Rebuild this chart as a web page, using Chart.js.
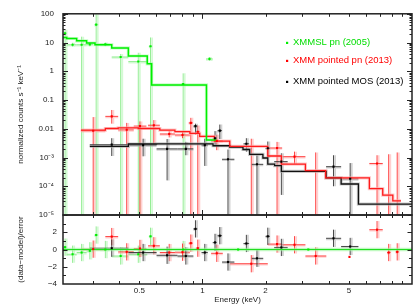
<!DOCTYPE html>
<html>
<head>
<meta charset="utf-8">
<script src="https://cdn.jsdelivr.net/npm/chart.js@4.4.1/dist/chart.umd.min.js"></script>
<style>
  html, body { margin: 0; padding: 0; background: #fff; }
  #wrap { position: relative; width: 416px; height: 305px; }
  #wrap canvas { position: absolute; left: 0; top: 0; }
</style>
</head>
<body>
<div id="wrap">
  <canvas id="specChart" width="416" height="305"></canvas>
  <canvas id="residChart" width="416" height="305"></canvas>
</div>
<script>
// energy axis (keV)
const energyMin = 0.216;
const energyMax = 10;
const energyTicks = [0.5, 1, 2, 5];
const energyTickLabels = ['0.5', '1', '2', '5'];

// count axis
const countTicks = [1e-5, 1e-4, 1e-3, 0.01, 0.1, 1, 10, 100];
const countTickLabels = ['10⁻⁵', '10⁻⁴', '10⁻³', '0.01', '0.1', '1', '10', '100'];
const residTicks = [-4, -2, 0, 2];
const residTickLabels = ['−4', '−2', '0', '2'];

const seriesNames = ['XMMSL pn (2005)', 'XMM pointed pn (2013)', 'XMM pointed MOS (2013)'];

// XMMSL pn (2005) - green
const pn05Energy = [0.221, 0.240, 0.265, 0.290, 0.311, 0.344, 0.407, 0.494, 0.565, 0.809, 1.08, 1.48, 3.20];
const pn05Low = [0.216, 0.225, 0.251, 0.280, 0.305, 0.325, 0.369, 0.443, 0.555, 0.790, 1.04, 1.47, 3.19];
const pn05High = [0.225, 0.251, 0.280, 0.300, 0.318, 0.360, 0.443, 0.545, 0.575, 0.830, 1.12, 1.49, 3.21];
const pn05Counts = [21, 8.4, 8.4, 8.6, 42, 8.7, 3.15, 2.18, 7.4, 0.36, 2.7, null, null];
const pn05CountsLow = [1e-7, 7.2, 1e-7, 7.4, 1e-7, 7.5, 1e-7, 1e-7, 1e-7, 1e-7, 2.3, null, null];
const pn05CountsHigh = [28, 9.8, 16, 10, 95, 10, 4.0, 4.4, 15, 0.85, 3.1, null, null];
const pn05Resid = [0.27, -0.55, -0.35, -0.15, 1.68, 0.0, -0.75, -0.55, 1.53, 0.0, null, 0.0, 0.0];
const pn05ResidErr = [1, 1, 1, 1, 1, 1, 1, 1, 1, 1, null, 0, 0];
const pn05ModelEdges = [0.216, 0.225, 0.251, 0.280, 0.307, 0.369, 0.443, 0.545, 0.572, 1.045, 1.166];
const pn05Model = [15, 13.8, 11.5, 9.6, 8.4, 6.5, 3.4, 1.82, 0.335, 0.0041];

// XMM pointed pn (2013) - red
const pn13Energy = [0.301, 0.369, 0.435, 0.503, 0.586, 0.694, 0.803, 0.880, 0.950, 1.17, 1.71, 2.27, 2.75, 3.47, 5.03, 6.81, 7.74, 8.50];
const pn13Low = [0.263, 0.344, 0.396, 0.470, 0.550, 0.626, 0.739, 0.860, 0.930, 1.10, 1.35, 2.05, 2.40, 3.10, 5.03, 6.26, 7.60, 8.35];
const pn13High = [0.344, 0.396, 0.470, 0.540, 0.626, 0.739, 0.871, 0.900, 0.970, 1.25, 2.05, 2.40, 3.10, 3.90, 5.03, 7.25, 7.90, 8.65];
const pn13Counts = [0.00855, 0.027, 0.0092, 0.0124, 0.0133, 0.0066, 0.0061, 0.016, 0.0079, 0.0038, null, 0.00215, 0.00107, null, null, 6.2e-4, null, null];
const pn13CountsLow = [1e-7, 0.0151, 1e-7, 1e-7, 0.0028, 0.0050, 0.0047, 1e-7, 1e-7, 0.0018, 1e-7, 1e-7, 6e-4, 1e-7, null, 1e-7, 1e-7, 1e-7];
const pn13CountsHigh = [0.0255, 0.045, 0.016, 0.018, 0.020, 0.0085, 0.0078, 0.024, 0.013, 0.0062, 0.0045, 0.0035, 0.0016, 0.0015, null, 0.0012, 0.0013, 0.0015];
const pn13Resid = [0.04, 1.5, -0.27, 0.12, 0.43, -0.35, -0.31, 0.74, 0.15, -0.44, -1.65, 0.63, 0.55, -0.75, -0.86, 2.3, -0.35, -0.27];
const pn13ResidErr = [1, 1, 1, 1, 1, 1, 1, 1, 1, 1, 1, 1, 1, 1, 0, 1, 1, 1];
const pn13ModelEdges = [0.263, 0.344, 0.396, 0.494, 0.626, 0.739, 0.871, 0.97, 1.14, 1.35, 2.05, 2.38, 3.1, 3.87, 6.26, 7.25, 8.1, 8.86];
const pn13Model = [0.0090, 0.0102, 0.0108, 0.0102, 0.0090, 0.0079, 0.0069, 0.0054, 0.0037, 0.00246, 0.00113, 5.9e-4, 3.5e-4, 1.97e-4, 8.3e-5, 4.95e-5, 3.1e-5];

// XMM pointed MOS (2013) - black
const mos13Energy = [0.369, 0.521, 0.678, 0.833, 0.926, 1.026, 1.148, 1.21, 1.324, 1.62, 1.82, 2.05, 2.38, 4.22, 5.07];
const mos13Low = [0.290, 0.443, 0.604, 0.760, 0.905, 0.990, 1.12, 1.18, 1.24, 1.57, 1.72, 2.00, 2.20, 3.89, 4.59];
const mos13High = [0.443, 0.604, 0.760, 0.905, 0.945, 1.06, 1.17, 1.24, 1.42, 1.67, 1.95, 2.10, 2.55, 4.59, 5.55];
const mos13Counts = [0.0028, 0.0027, 0.0020, 0.0020, 0.0124, 0.0027, 0.0047, 0.0086, 8.7e-4, 0.0030, 5.8e-4, 0.0021, 7.2e-4, 4.8e-4, 1.82e-4];
const mos13CountsLow = [0.00113, 0.0011, 1.6e-4, 0.0012, 0.0063, 5.1e-4, 0.0025, 0.0044, 1e-7, 0.0016, 1e-7, 9.8e-4, 5e-5, 1.0e-4, 1e-7];
const mos13CountsHigh = [0.0047, 0.0045, 0.0044, 0.0035, 0.015, 0.0045, 0.0083, 0.014, 0.0019, 0.0047, 0.0012, 0.0036, 0.0014, 0.0012, 6.4e-4];
const mos13Resid = [0.15, -0.35, -0.67, -0.75, 2.39, -0.35, 0.82, 1.6, -1.45, 0.7, -1.02, 1.53, 0.24, 1.3, 0.35];
const mos13ModelEdges = [0.290, 0.443, 0.604, 1.123, 1.349, 1.561, 1.68, 1.943, 2.05, 2.21, 2.38, 3.89, 4.59, 5.55, 10];
const mos13Model = [0.00246, 0.00295, 0.0030, 0.00257, 0.00229, 0.0019, 0.00129, 9.6e-4, 5.9e-4, 5.2e-4, 3.3e-4, 1.97e-4, 1.2e-4, 2.4e-5];

const FONT = "'Liberation Sans', Arial, Helvetica, sans-serif";
const GREEN = '#00ee00', RED = '#ff0000', BLACK = '#000000';

// build histogram outline from bin edges
function histogram(edges, vals) {
  const pts = [];
  vals.forEach((v, i) => {
    pts.push({ x: edges[i], y: v });
    pts.push({ x: edges[i + 1], y: v });
  });
  return pts;
}

function errorList(E, lo, hi, v, vlo, vhi) {
  return E.map((e, i) => ({ x: e, xlo: lo[i], xhi: hi[i], y: v[i], ylo: vlo[i], yhi: vhi[i] }));
}

function residErrors(E, lo, hi, r, sig) {
  return E.map((e, i) => {
    if (r[i] === null) return null;
    const s = sig ? sig[i] : 1;
    return { x: e, xlo: lo[i], xhi: hi[i], y: r[i], ylo: s ? r[i] - s : null, yhi: s ? r[i] + s : null };
  }).filter(Boolean);
}

function points(E, v) {
  return E.map((e, i) => ({ x: e, y: v[i] }));
}

// error bars, drawn through the chart scales
const errorBars = {
  id: 'errorBars',
  beforeDatasetsDraw(chart) {
    const { ctx, chartArea: a } = chart;
    const xs = chart.scales.x, ys = chart.scales.y;
    ctx.save();
    ctx.beginPath();
    ctx.rect(a.left, a.top, a.right - a.left, a.bottom - a.top);
    ctx.clip();
    chart.data.datasets.forEach(ds => {
      if (!ds.errors) return;
      const passes = [[ds.errShadow, 1.8, 1.6], [ds.errColor, 0.9, 0]];
      passes.forEach(([color, lw, off]) => {
        ctx.strokeStyle = color;
        ctx.lineWidth = lw;
        ds.errors.forEach(e => {
          const px = xs.getPixelForValue(e.x);
          ctx.beginPath();
          if (e.ylo !== null && e.yhi !== null) {
            ctx.moveTo(px + off, ys.getPixelForValue(e.ylo));
            ctx.lineTo(px + off, ys.getPixelForValue(e.yhi));
          }
          if (e.y !== null && e.xlo !== e.xhi) {
            const py = ys.getPixelForValue(e.y);
            ctx.moveTo(xs.getPixelForValue(e.xlo), py + off * 0.6);
            ctx.lineTo(xs.getPixelForValue(e.xhi), py + off * 0.6);
          }
          ctx.stroke();
        });
      });
    });
    ctx.restore();
  }
};

// box and inward tick marks on all four sides
const frameTicks = {
  id: 'frameTicks',
  afterDatasetsDraw(chart, args, opts) {
    const { ctx, chartArea: a } = chart;
    const xs = chart.scales.x, ys = chart.scales.y;
    ctx.save();
    ctx.strokeStyle = '#222';
    ctx.lineWidth = 1;
    ctx.beginPath();
    opts.xTicks.forEach(([v, len]) => {
      const px = Math.round(xs.getPixelForValue(v)) + 0.5;
      if (px <= a.left || px >= a.right) return;
      ctx.moveTo(px, a.bottom); ctx.lineTo(px, a.bottom - len);
      ctx.moveTo(px, a.top); ctx.lineTo(px, a.top + len);
    });
    opts.yTicks.forEach(([v, len]) => {
      const py = Math.round(ys.getPixelForValue(v)) + 0.5;
      if (py <= a.top || py >= a.bottom) return;
      ctx.moveTo(a.left, py); ctx.lineTo(a.left + len, py);
      ctx.moveTo(a.right, py); ctx.lineTo(a.right - len, py);
    });
    ctx.stroke();
    ctx.lineWidth = 1.5;
    ctx.strokeRect(a.left, a.top, a.right - a.left, a.bottom - a.top);
    ctx.restore();
  }
};

const legendBox = {
  id: 'legendBox',
  afterDraw(chart, args, opts) {
    const { ctx, chartArea: a } = chart;
    ctx.save();
    ctx.font = '9.5px ' + FONT;
    ctx.textBaseline = 'middle';
    opts.items.forEach((it, i) => {
      const y = a.top + opts.rows[i];
      const x = a.right - opts.fromRight;
      ctx.fillStyle = it.color;
      ctx.fillRect(x - 1, y - 1, 2.2, 2.2);
      ctx.fillStyle = it.text;
      ctx.fillText(it.label, x + 6, y);
    });
    ctx.restore();
  }
};

const xTickMarks = [];
[0.3, 0.4, 0.5, 0.6, 0.7, 0.8, 0.9, 2, 3, 4, 5, 6, 7, 8, 9].forEach(v => xTickMarks.push([v, 3]));
[1, 10].forEach(v => xTickMarks.push([v, 5]));

const countTickMarks = [];
for (let d = -5; d <= 2; d++) {
  countTickMarks.push([Math.pow(10, d), 5]);
  if (d < 2) for (let k = 2; k <= 9; k++) countTickMarks.push([k * Math.pow(10, d), 2.5]);
}
const residTickMarks = [];
for (let r = -4; r <= 4; r++) residTickMarks.push([r, r % 2 === 0 ? 4.5 : 3]);

function modelSet(edges, vals, color, width) {
  return { type: 'scatter', showLine: true, data: histogram(edges, vals), borderColor: color,
    borderWidth: width, pointRadius: 0, fill: false, tension: 0 };
}

function pointSet(E, v, color, errs, errColor, errShadow) {
  return { data: points(E, v), backgroundColor: color, borderColor: color, pointStyle: 'rect',
    pointRadius: 1.5, borderWidth: 0, showLine: false, errors: errs, errColor: errColor, errShadow: errShadow };
}

const tickFont = { family: FONT, size: 8 };

// upper panel: spectra
new Chart(document.getElementById('specChart'), {
  type: 'scatter',
  data: {
    datasets: [
      pointSet(pn05Energy, pn05Counts, GREEN,
        errorList(pn05Energy, pn05Low, pn05High, pn05Counts, pn05CountsLow, pn05CountsHigh),
        '#8aeb8a', 'rgba(160,245,160,0.45)'),
      pointSet(pn13Energy, pn13Counts, RED,
        errorList(pn13Energy, pn13Low, pn13High, pn13Counts, pn13CountsLow, pn13CountsHigh),
        '#ff3030', 'rgba(255,170,170,0.55)'),
      pointSet(mos13Energy, mos13Counts, BLACK,
        errorList(mos13Energy, mos13Low, mos13High, mos13Counts, mos13CountsLow, mos13CountsHigh),
        '#333', 'rgba(165,165,165,0.5)'),
      modelSet(pn05ModelEdges, pn05Model, '#00f000', 1.5),
      modelSet(pn13ModelEdges, pn13Model, '#ff1a1a', 1.3),
      modelSet(mos13ModelEdges, mos13Model, '#111', 1.3),
      modelSet(pn05ModelEdges, pn05Model, 'rgba(150,250,150,0.5)', 3.2),
      modelSet(pn13ModelEdges, pn13Model, 'rgba(255,170,170,0.6)', 3.2),
      modelSet(mos13ModelEdges, mos13Model, 'rgba(170,170,170,0.6)', 3.2)
    ]
  },
  options: {
    responsive: false,
    animation: false,
    events: [],
    devicePixelRatio: 1,
    layout: { padding: { left: 0, right: 3, top: 9, bottom: 90 } },
    plugins: {
      legend: { display: false },
      tooltip: { enabled: false },
      frameTicks: { xTicks: xTickMarks, yTicks: countTickMarks },
      legendBox: {
        fromRight: 125,
        rows: [29, 47, 68],
        items: [
          { label: seriesNames[0], color: GREEN, text: '#00dd00' },
          { label: seriesNames[1], color: RED, text: '#ff0000' },
          { label: seriesNames[2], color: BLACK, text: '#000' }
        ]
      }
    },
    scales: {
      x: { type: 'logarithmic', min: energyMin, max: energyMax, display: false },
      y: {
        type: 'logarithmic', min: 1e-5, max: 100,
        afterBuildTicks: s => { s.ticks = countTicks.map(v => ({ value: v })); },
        afterFit: s => { s.width = 63; },
        grid: { display: false, drawTicks: false },
        border: { display: false },
        ticks: { autoSkip: false, padding: 9, color: '#222', font: tickFont,
          callback: (v, i) => countTickLabels[i] },
        title: { display: true, text: 'normalized counts s⁻¹ keV⁻¹', color: '#222',
          font: { family: FONT, size: 8 }, padding: { top: 16, bottom: 0 } }
      }
    }
  },
  plugins: [errorBars, frameTicks, legendBox]
});

// lower panel: residuals
new Chart(document.getElementById('residChart'), {
  type: 'scatter',
  data: {
    datasets: [
      pointSet(pn05Energy, pn05Resid, GREEN,
        residErrors(pn05Energy, pn05Low, pn05High, pn05Resid, pn05ResidErr),
        '#8aeb8a', 'rgba(160,245,160,0.45)'),
      pointSet(pn13Energy, pn13Resid, RED,
        residErrors(pn13Energy, pn13Low, pn13High, pn13Resid, pn13ResidErr),
        '#ff3030', 'rgba(255,170,170,0.55)'),
      pointSet(mos13Energy, mos13Resid, BLACK,
        residErrors(mos13Energy, mos13Low, mos13High, mos13Resid, null),
        '#333', 'rgba(165,165,165,0.5)'),
      { type: 'scatter', showLine: true, data: [{ x: energyMin, y: 0 }, { x: energyMax, y: 0 }],
        borderColor: '#22dd22', borderWidth: 1.1, pointRadius: 0 },
      { type: 'scatter', showLine: true, data: [{ x: energyMin, y: 0 }, { x: energyMax, y: 0 }],
        borderColor: 'rgba(150,245,150,0.6)', borderWidth: 3.5, pointRadius: 0 }
    ]
  },
  options: {
    responsive: false,
    animation: false,
    events: [],
    devicePixelRatio: 1,
    layout: { padding: { left: 0, right: 3, top: 215, bottom: 0 } },
    plugins: {
      legend: { display: false },
      tooltip: { enabled: false },
      frameTicks: { xTicks: xTickMarks, yTicks: residTickMarks }
    },
    scales: {
      x: {
        type: 'logarithmic', min: energyMin, max: energyMax,
        afterBuildTicks: s => { s.ticks = energyTicks.map(v => ({ value: v })); },
        afterFit: s => { s.height = 21; },
        grid: { display: false, drawTicks: false },
        border: { display: false },
        ticks: { autoSkip: false, maxRotation: 0, padding: 2, color: '#222', font: tickFont,
          callback: (v, i) => energyTickLabels[i] },
        title: { display: true, text: 'Energy (keV)', color: '#222',
          font: { family: FONT, size: 8 }, padding: { top: 0, bottom: 0 } }
      },
      y: {
        type: 'linear', min: -4, max: 4,
        afterBuildTicks: s => { s.ticks = residTicks.map(v => ({ value: v })); },
        afterFit: s => { s.width = 63; },
        grid: { display: false, drawTicks: false },
        border: { display: false },
        ticks: { autoSkip: false, padding: 6, color: '#222', font: tickFont,
          callback: (v, i) => residTickLabels[i] },
        title: { display: true, text: '(data−model)/error', color: '#222',
          font: { family: FONT, size: 8 }, padding: { top: 16, bottom: 0 } }
      }
    }
  },
  plugins: [errorBars, frameTicks]
});
</script>
</body>
</html>
